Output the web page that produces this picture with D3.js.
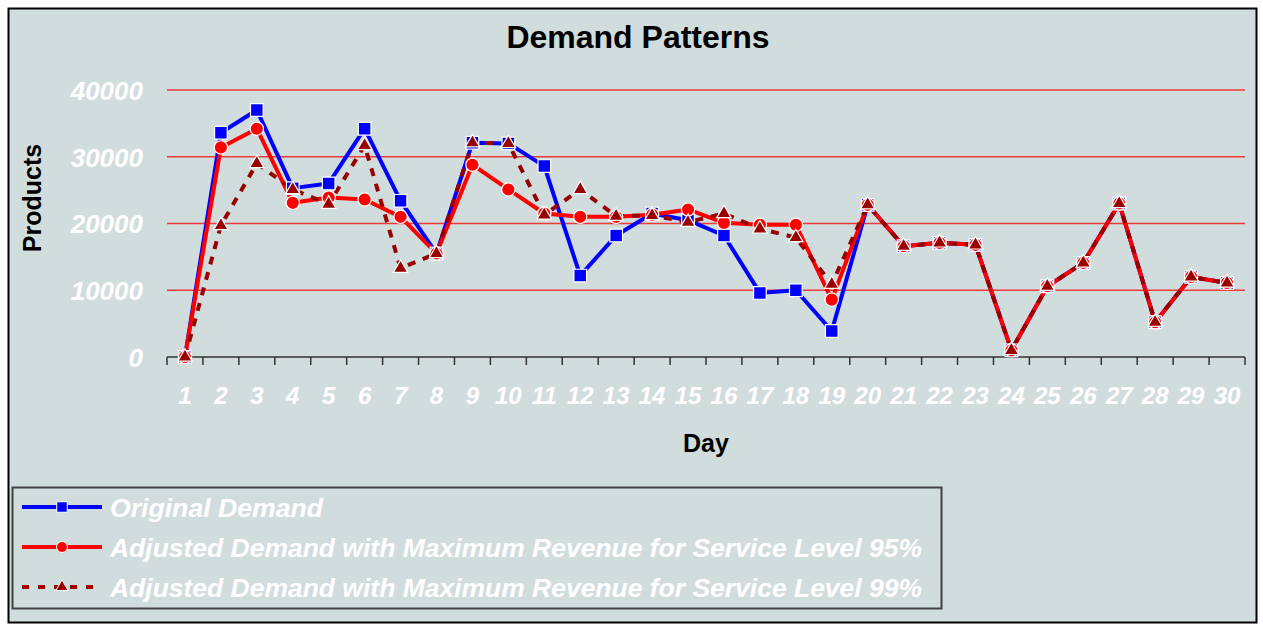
<!DOCTYPE html>
<html>
<head>
<meta charset="utf-8">
<script src="https://cdn.jsdelivr.net/npm/d3@7"></script>
<style>
  html, body { margin: 0; padding: 0; background: #ffffff; }
  svg { display: block; }
  text { font-family: "Liberation Sans", Arial, sans-serif; }
</style>
</head>
<body>
<svg id="chart" width="1263" height="625"></svg>
<script>
// ---- data ----
const days = [1,2,3,4,5,6,7,8,9,10,11,12,13,14,15,16,17,18,19,20,21,22,23,24,25,26,27,28,29,30];
const originalDemand = [0,33600,37000,25300,26000,34200,23400,15500,32100,32000,28600,12200,18200,21500,20500,18200,9600,10000,3900,22800,16600,17100,16800,1000,10600,14100,23000,5200,12000,11100];
const adjusted95 = [0,31400,34200,23100,23900,23600,21000,15500,28800,25100,21500,21000,21000,21300,22100,20100,19800,19800,8600,22800,16600,17100,16800,1000,10600,14100,23000,5200,12000,11100];
const adjusted99 = [0,19700,29000,25100,22900,31700,13300,15500,32100,32000,21300,25100,21100,21200,20200,21500,19200,17900,10900,22800,16600,17100,16800,1000,10600,14100,23000,5200,12000,11100];
const yTicks = [0,10000,20000,30000,40000];
const seriesNames = [
  "Original Demand",
  "Adjusted Demand with Maximum Revenue for Service Level 95%",
  "Adjusted Demand with Maximum Revenue for Service Level 99%"
];

const series = [
  {name: seriesNames[0], values: originalDemand, color: "#0000ff", symbol: d3.symbolSquare, size: 160, dash: null, lsize: 110},
  {name: seriesNames[1], values: adjusted95, color: "#ff0000", symbol: d3.symbolCircle, size: 140, dash: null, lsize: 95},
  {name: seriesNames[2], values: adjusted99, color: "#990000", symbol: d3.symbolTriangle, size: 90, dash: "8,8", lsize: 65}
];

const svg = d3.select("#chart");

// frame
svg.append("rect").attr("x", 8.5).attr("y", 8.5).attr("width", 1248).attr("height", 614)
  .attr("fill", "#d1dddd").attr("stroke", "#000").attr("stroke-width", 2);

const x = d3.scaleBand().domain(days).range([167, 1245]);
const y = d3.scaleLinear().domain([0, 40000]).range([357, 90]);

// gridlines
svg.append("g").selectAll("line").data(yTicks.filter(t => t > 0)).join("line")
  .attr("x1", 167).attr("x2", 1245)
  .attr("y1", d => y(d)).attr("y2", d => y(d))
  .attr("stroke", "#f03a3a").attr("stroke-width", 1.5);

// y axis labels
const yAxis = d3.axisLeft(y).tickValues(yTicks).tickFormat(d3.format("d")).tickSize(0).tickPadding(24);
const yg = svg.append("g").attr("transform", "translate(167,0)").call(yAxis);
yg.select(".domain").remove();
yg.selectAll("text").attr("fill", "#ffffff").attr("font-size", 26)
  .attr("font-weight", "bold").attr("font-style", "italic")
  .attr("font-family", "'Liberation Sans', Arial, sans-serif").attr("dy", "0.36em");

// x axis
const xg = svg.append("g").attr("transform", "translate(0,357)");
xg.append("line").attr("x1", 167).attr("x2", 1245).attr("y1", 0).attr("y2", 0)
  .attr("stroke", "#333").attr("stroke-width", 1.5);
const bounds = d3.range(days.length + 1).map(i => 167 + i * x.step());
xg.selectAll("line.tk").data(bounds).join("line").attr("class", "tk")
  .attr("x1", d => d).attr("x2", d => d).attr("y1", 0).attr("y2", 8)
  .attr("stroke", "#333").attr("stroke-width", 1.5);
xg.selectAll("text").data(days).join("text")
  .attr("x", d => x(d) + x.bandwidth() / 2).attr("y", 47)
  .attr("text-anchor", "middle").attr("fill", "#fff")
  .attr("font-size", 24).attr("font-weight", "bold").attr("font-style", "italic")
  .text(d => d);

// lines & markers
series.forEach(s => {
  const line = d3.line().x((d, i) => x(days[i]) + x.bandwidth() / 2).y(d => y(d));
  svg.append("path").datum(s.values).attr("d", line)
    .attr("fill", "none").attr("stroke", s.color).attr("stroke-width", 4)
    .attr("stroke-dasharray", s.dash).attr("stroke-linejoin", "round");
});
series.forEach(s => {
  svg.append("g").selectAll("path").data(s.values).join("path")
    .attr("transform", (d, i) => `translate(${x(days[i]) + x.bandwidth() / 2},${y(d)})`)
    .attr("d", d3.symbol().type(s.symbol).size(s.size))
    .attr("fill", s.color).attr("stroke", "#fff").attr("stroke-width", 1.2);
});

// titles
svg.append("text").attr("x", 638).attr("y", 48).attr("text-anchor", "middle")
  .attr("font-size", 32).attr("font-weight", "bold").attr("fill", "#000").text("Demand Patterns");
svg.append("text").attr("transform", "translate(41,198) rotate(-90)").attr("text-anchor", "middle")
  .attr("font-size", 25).attr("font-weight", "bold").attr("fill", "#000").text("Products");
svg.append("text").attr("x", 706).attr("y", 452).attr("text-anchor", "middle")
  .attr("font-size", 25).attr("font-weight", "bold").attr("fill", "#000").text("Day");

// legend
const lg = svg.append("g");
lg.append("rect").attr("x", 12.5).attr("y", 487.5).attr("width", 929).attr("height", 121)
  .attr("fill", "#d1dddd").attr("stroke", "#404040").attr("stroke-width", 2);
series.forEach((s, i) => {
  const cy = 507 + i * 40;
  lg.append("line").attr("x1", 22).attr("x2", 102).attr("y1", cy).attr("y2", cy)
    .attr("stroke", s.color).attr("stroke-width", 4).attr("stroke-dasharray", s.dash ? "7,9" : null);
  lg.append("path").attr("transform", `translate(62,${cy})`)
    .attr("d", d3.symbol().type(s.symbol).size(s.lsize))
    .attr("fill", s.color).attr("stroke", "#fff").attr("stroke-width", 1);
  const t = lg.append("text").attr("x", 110).attr("y", cy + 10)
    .attr("font-size", 26).attr("font-weight", "bold").attr("font-style", "italic")
    .attr("fill", "#fff").text(s.name);
  if (i > 0) t.attr("textLength", 812).attr("lengthAdjust", "spacingAndGlyphs");
  else t.attr("textLength", 213).attr("lengthAdjust", "spacingAndGlyphs");
});
</script>
</body>
</html>
